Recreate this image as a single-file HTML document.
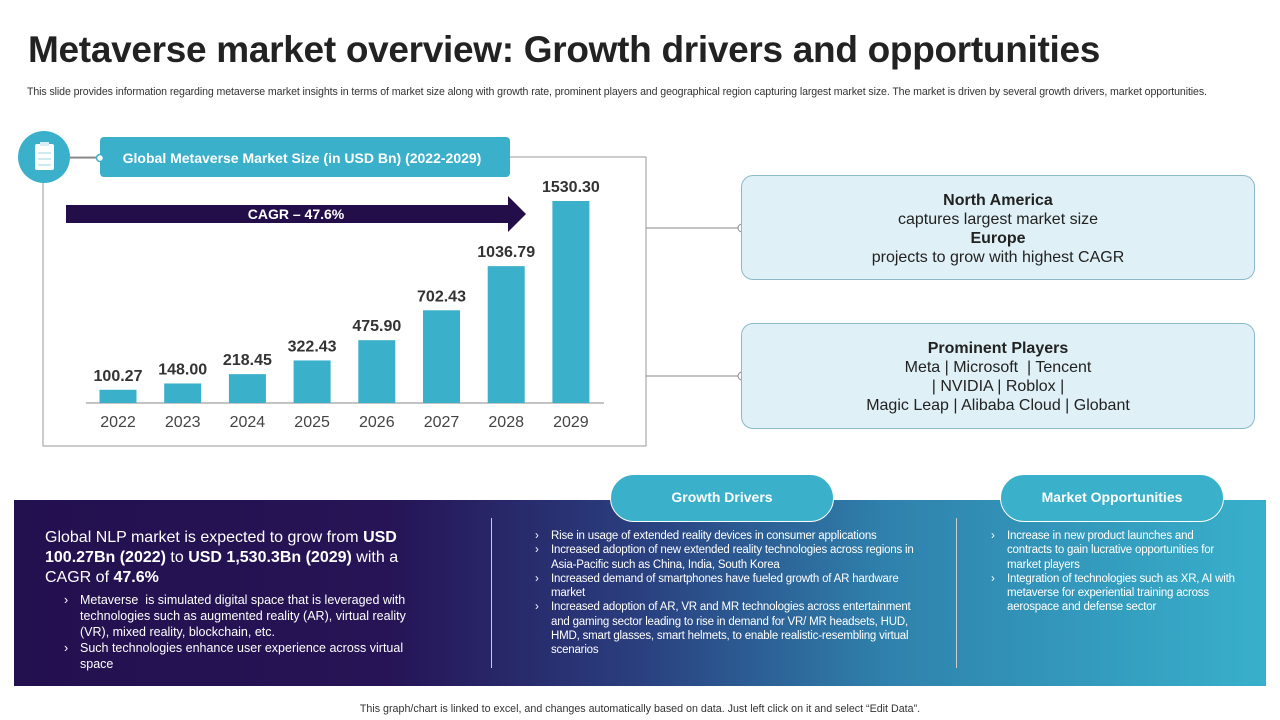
<!DOCTYPE html>
<html><head><meta charset="utf-8"><style>
*{margin:0;padding:0;box-sizing:border-box}
body{width:1280px;height:720px;background:#fff;font-family:"Liberation Sans",Arial,sans-serif;position:relative;overflow:hidden;color:#222}
.abs{position:absolute}
h1{position:absolute;left:28px;top:29px;font-size:37px;font-weight:bold;color:#222;letter-spacing:-0.3px;white-space:nowrap}
.sub{left:27px;top:86px;font-size:10.6px;color:#333;white-space:nowrap;letter-spacing:-0.1px}
.box{position:absolute;left:741px;width:514px;background:#dff0f6;border:1px solid #8cb9c9;border-radius:12px;text-align:center;font-size:16px;color:#222;line-height:19px}
.panel{left:14px;top:500px;width:1252px;height:186px;background:linear-gradient(90deg,#23104f 0%,#261456 30%,#2a3f7f 50%,#2f82ad 70%,#38b0cb 100%)}
.pill{position:absolute;height:48px;border-radius:24px;background:#3ab0cb;border:1.5px solid #fff;color:#fff;font-weight:bold;font-size:14px;text-align:center;line-height:45px}
ul{list-style:none}
li{position:relative;padding-left:20px}
li:before{content:"›";position:absolute;left:4px}
.c2 li,.c3 li{font-size:11.5px;line-height:14.3px;color:#fff;letter-spacing:-0.2px}
</style></head><body>
<h1>Metaverse market overview: Growth drivers and opportunities</h1>
<div class="abs sub">This slide provides information regarding metaverse market insights in terms of market size along with growth rate, prominent players and geographical region capturing largest market size. The market is driven by several growth drivers, market opportunities.</div>

<svg class="abs" style="left:0;top:0" width="1280" height="470">
<rect x="43" y="157" width="603" height="289" fill="none" stroke="#999" stroke-width="1"/>
<line x1="646" y1="228" x2="741" y2="228" stroke="#888"/>
<circle cx="742" cy="228" r="4" fill="#fff" stroke="#888"/>
<line x1="646" y1="376" x2="741" y2="376" stroke="#888"/>
<circle cx="742" cy="376" r="4" fill="#fff" stroke="#888"/>
<rect x="100" y="137" width="410" height="40" rx="4" fill="#3ab0cb"/>
<text x="302" y="163" text-anchor="middle" font-size="14" font-weight="bold" fill="#fff">Global Metaverse Market Size (in USD Bn) (2022-2029)</text>
<line x1="68" y1="158" x2="100" y2="158" stroke="#777"/>
<circle cx="100" cy="158" r="3.5" fill="#fff" stroke="#3ab0cb" stroke-width="1.5"/>
<circle cx="44" cy="157" r="26" fill="#3ab0cb"/>
<rect x="35" y="144" width="19" height="26" rx="2" fill="#fff"/>
<rect x="40" y="142" width="9" height="4" fill="#d8eef4"/>
<line x1="38" y1="153" x2="51" y2="153" stroke="#9cd3e1"/><line x1="38" y1="159" x2="51" y2="159" stroke="#9cd3e1"/><line x1="38" y1="165" x2="51" y2="165" stroke="#9cd3e1"/>
<polygon points="66,205 508,205 508,196 526,214 508,232 508,223 66,223" fill="#230e4a"/>
<text x="296" y="219" text-anchor="middle" font-size="14" font-weight="bold" fill="#fff">CAGR – 47.6%</text>
<line x1="86" y1="403" x2="604" y2="403" stroke="#888"/>
<g id="bars"></g>
</svg>

<div class="box" style="top:175px;height:105px;padding-top:15px"><b>North America</b><br>captures largest market size<br><b>Europe</b><br>projects to grow with highest CAGR</div>
<div class="box" style="top:323px;height:106px;padding-top:15px"><b>Prominent Players</b><br>Meta | Microsoft &nbsp;| Tencent<br>| NVIDIA | Roblox |<br>Magic Leap | Alibaba Cloud | Globant</div>

<div class="abs panel">
<div class="abs" style="left:477px;top:18px;width:1px;height:150px;background:#ccc"></div>
<div class="abs" style="left:942px;top:18px;width:1px;height:150px;background:#ccc"></div>
<div class="abs" style="left:31px;top:28px;width:370px;color:#fff;font-size:16px;line-height:20px">Global NLP market is expected to grow from <b>USD 100.27Bn (2022)</b> to <b>USD 1,530.3Bn (2029)</b> with a CAGR of <b>47.6%</b></div>
<ul class="abs" style="left:46px;top:92px;width:370px;color:#fff;font-size:12.5px;line-height:16px">
<li>Metaverse &nbsp;is simulated digital space that is leveraged with technologies such as augmented reality (AR), virtual reality (VR), mixed reality, blockchain, etc.</li>
<li>Such technologies enhance user experience across virtual space</li></ul>
<ul class="abs c2" style="left:517px;top:29px;width:390px">
<li>Rise in usage of extended reality devices in consumer applications</li>
<li>Increased adoption of new extended reality technologies across regions in Asia-Pacific such as China, India, South Korea</li>
<li>Increased demand of smartphones have fueled growth of AR hardware market</li>
<li>Increased adoption of AR, VR and MR technologies across entertainment and gaming sector leading to rise in demand for VR/ MR headsets, HUD, HMD, smart glasses, smart helmets, to enable realistic-resembling virtual scenarios</li></ul>
<ul class="abs c3" style="left:973px;top:29px;width:250px">
<li>Increase in new product launches and contracts to gain lucrative opportunities for market players</li>
<li>Integration of technologies such as XR, AI with metaverse for experiential training across aerospace and defense sector</li></ul>
</div>
<div class="pill" style="left:610px;top:474px;width:224px">Growth Drivers</div>
<div class="pill" style="left:1000px;top:474px;width:224px">Market Opportunities</div>
<div class="abs" style="left:0;width:1280px;top:703px;text-align:center;font-size:10.7px;color:#333">This graph/chart is linked to excel, and changes automatically based on data. Just left click on it and select “Edit Data”.</div>

<script>
const categories=["2022","2023","2024","2025","2026","2027","2028","2029"];
const values=[100.27,148.00,218.45,322.43,475.90,702.43,1036.79,1530.30];
const labels=["100.27","148.00","218.45","322.43","475.90","702.43","1036.79","1530.30"];
const NS="http://www.w3.org/2000/svg";
const g=document.getElementById('bars');
const base=403,scale=202/1530.3;
function xc(i){return 118+i*64.7;}
function yv(v){return base-v*scale;}
categories.forEach((c,i)=>{
 const r=document.createElementNS(NS,'rect');
 r.setAttribute('x',xc(i)-18.5);r.setAttribute('y',yv(values[i]));
 r.setAttribute('width',37);r.setAttribute('height',base-yv(values[i]));
 r.setAttribute('fill','#3ab0cb');
 
 
 g.appendChild(r);
 const t=document.createElementNS(NS,'text');
 t.setAttribute('x',xc(i));t.setAttribute('y',yv(values[i])-9);
 t.setAttribute('text-anchor','middle');t.setAttribute('font-size','16');t.setAttribute('font-weight','bold');t.setAttribute('fill','#333');
 t.textContent=labels[i];
 
 
 g.appendChild(t);
 const y=document.createElementNS(NS,'text');
 y.setAttribute('x',xc(i));y.setAttribute('y',427);
 y.setAttribute('text-anchor','middle');y.setAttribute('font-size','16');y.setAttribute('fill','#444');
 y.textContent=c;
 
 
 g.appendChild(y);
});
</script>
</body></html>
